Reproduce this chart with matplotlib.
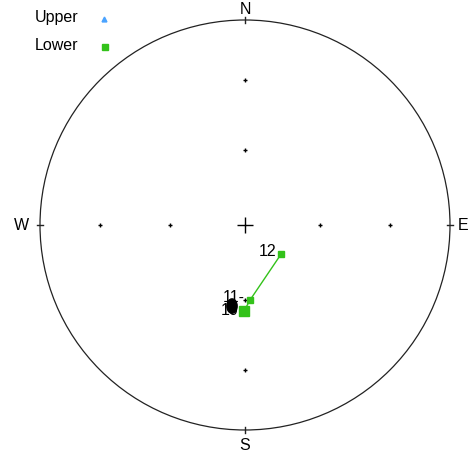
import numpy as np
import matplotlib.pyplot as plt
from matplotlib.patches import Circle, Ellipse

plt.rcParams['font.family'] = ['Liberation Sans', 'DejaVu Sans']

# demagnetisation steps (declination / inclination, degrees), lower hemisphere
steps = ['10', '11', '12']
dec = [180.7, 176.2, 128.7]
inc = [55.4, 59.9, 71.6]
# earlier steps pile up under one label cluster
cluster_dec = 189.1
cluster_inc = 57.1

GREEN = '#33c21a'
FS = 11.5


def equal_area(d, i):
    d = np.radians(np.asarray(d, dtype=float))
    r = np.sqrt(2) * np.sin(np.radians(90 - np.abs(np.asarray(i, dtype=float))) / 2)
    return r * np.sin(d), r * np.cos(d)


fig = plt.figure(figsize=(4.71, 4.55), dpi=100)
ax = fig.add_axes([0, 0, 1, 1])
ax.set_xlim(-245 / 205, 226 / 205)
ax.set_ylim(-230 / 205, 225 / 205)
ax.axis('off')

# primitive circle
ax.add_patch(Circle((0, 0), 1, fill=False, color='#222222', lw=0.9))
t = 0.015
ax.plot([0, 0], [1 - t, 1 + t], color='#222222', lw=1)
ax.plot([0, 0], [-1 - t, -1 + t], color='#222222', lw=1)
ax.plot([-1 - t, -1 + t], [0, 0], color='#222222', lw=1)
ax.plot([1 - t, 1 + t], [0, 0], color='#222222', lw=1)
ax.text(0, 1.05, 'N', ha='center', va='center', fontsize=FS)
ax.text(0, -1.075, 'S', ha='center', va='center', fontsize=FS)
ax.text(-1.09, 0, 'W', ha='center', va='center', fontsize=FS)
ax.text(1.065, 0, 'E', ha='center', va='center', fontsize=FS)

# inclination ticks at 30 and 60 degrees along the cardinal axes
for az in [0, 90, 180, 270]:
    tx, ty = equal_area([az, az], [30, 60])
    ax.plot(tx, ty, ls='none', marker='+', ms=3.5, mew=1, color='black')
ax.plot(0, 0, marker='+', ms=11, mew=1, color='black')

# step path and markers
x, y = equal_area(dec, inc)
ax.plot(x, y, color=GREEN, lw=1, zorder=3)
ax.plot(x[1:], y[1:], ls='none', marker='s', ms=4.5, color=GREEN, zorder=4)
ax.plot(x[0], y[0], ls='none', marker='s', ms=6.5, color=GREEN, zorder=4)

cx, cy = equal_area(cluster_dec, cluster_inc)
ax.add_patch(Ellipse((cx, cy), 0.05, 0.07, color='black', zorder=5))

ax.text(x[2] - 0.025, y[2] + 0.01, steps[2], ha='right', va='center', fontsize=FS)
ax.text(x[1] - 0.025, y[1] + 0.015, steps[1] + '-', ha='right', va='center', fontsize=FS)
ax.text(x[0] - 0.025, y[0] + 0.005, steps[0], ha='right', va='center', fontsize=FS, zorder=6)

# legend
ax.text(-1.025, 1.01, 'Upper', ha='left', va='center', fontsize=FS)
ax.text(-1.025, 0.875, 'Lower', ha='left', va='center', fontsize=FS)
ax.plot(-0.69, 1.005, marker='^', ms=3.5, color='#4aa3ff', ls='none')
ax.plot(-0.685, 0.87, marker='s', ms=4.5, color=GREEN, ls='none')

fig.savefig('out.png', dpi=100)
